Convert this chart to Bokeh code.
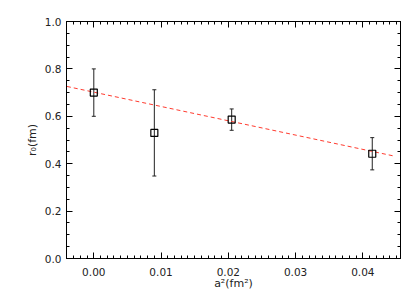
from bokeh.plotting import figure
from bokeh.models import (ColumnDataSource, Whisker, TeeHead, LinearAxis, FixedTicker,
                          Range1d, PrintfTickFormatter, CustomJSTickFormatter)
from bokeh.embed import file_html
from bokeh.resources import INLINE

# data
a2 = [0.0, 0.009, 0.0205, 0.0414]
r0 = [0.700, 0.530, 0.586, 0.442]
r0_err = [0.100, 0.182, 0.045, 0.068]
fit_x = [-0.004, 0.0447]
fit_y = [0.726, 0.432]
x_ticks = [0.00, 0.01, 0.02, 0.03, 0.04]
y_ticks = [0.0, 0.2, 0.4, 0.6, 0.8, 1.0]

FONT = "DejaVu Sans"

p = figure(frame_width=334, frame_height=237, output_backend="svg", toolbar_location=None,
           x_range=Range1d(-0.00406, 0.0456), y_range=Range1d(0.0, 1.0),
           min_border_left=66, min_border_top=21, min_border_right=12, min_border_bottom=10)
p.grid.visible = False
p.outline_line_color = "black"
p.outline_line_width = 1
p.background_fill_color = "white"
p.border_fill_color = "white"

x_minor = [round(-0.004 + 0.001 * i, 4) for i in range(0, 50)]
y_minor = [round(0.05 * i, 2) for i in range(0, 21)]

def style(ax, labels=True):
    ax.axis_line_color = "black"
    ax.major_tick_in = 6
    ax.major_tick_out = 0
    ax.minor_tick_in = 3
    ax.minor_tick_out = 0
    ax.major_tick_line_color = "black"
    ax.minor_tick_line_color = "black"
    ax.major_label_text_font = FONT
    ax.major_label_text_font_size = "10.5px"
    ax.major_label_text_color = "#222222"
    ax.axis_label_text_font = FONT
    ax.axis_label_text_font_size = "11px"
    ax.axis_label_text_font_style = "normal"
    ax.axis_label_text_color = "#222222"
    if not labels:
        ax.formatter = CustomJSTickFormatter(code="return '';")
        ax.major_label_standoff = 0

xax = p.xaxis[0]
xax.ticker = FixedTicker(ticks=x_ticks, minor_ticks=x_minor)
xax.formatter = PrintfTickFormatter(format="%.2f")
xax.axis_label = "a²(fm²)"
xax.major_label_standoff = 9
xax.axis_label_standoff = -2
style(xax)

yax = p.yaxis[0]
yax.ticker = FixedTicker(ticks=y_ticks, minor_ticks=y_minor)
yax.formatter = PrintfTickFormatter(format="%.1f")
yax.axis_label = "r₀(fm)"
yax.major_label_standoff = 5
yax.axis_label_standoff = 3
style(yax)

top = LinearAxis(ticker=FixedTicker(ticks=x_ticks, minor_ticks=x_minor))
style(top, labels=False)
p.add_layout(top, "above")
right = LinearAxis(ticker=FixedTicker(ticks=y_ticks, minor_ticks=y_minor))
style(right, labels=False)
p.add_layout(right, "right")

# fit line
p.line(fit_x, fit_y, line_color="#ff3b2f", line_dash="4 3", line_width=1)

src = ColumnDataSource(dict(x=a2, y=r0,
                            lo=[v - e for v, e in zip(r0, r0_err)],
                            hi=[v + e for v, e in zip(r0, r0_err)]))
w = Whisker(source=src, base="x", lower="lo", upper="hi", line_color="#222222", line_width=1,
            upper_head=TeeHead(size=4, line_color="#222222", line_width=1),
            lower_head=TeeHead(size=4, line_color="#222222", line_width=1))
p.add_layout(w)
p.scatter("x", "y", source=src, marker="square", size=7, fill_color=None,
          line_color="black", line_width=1.2)

open("out.html", "w").write(file_html(p, INLINE))
